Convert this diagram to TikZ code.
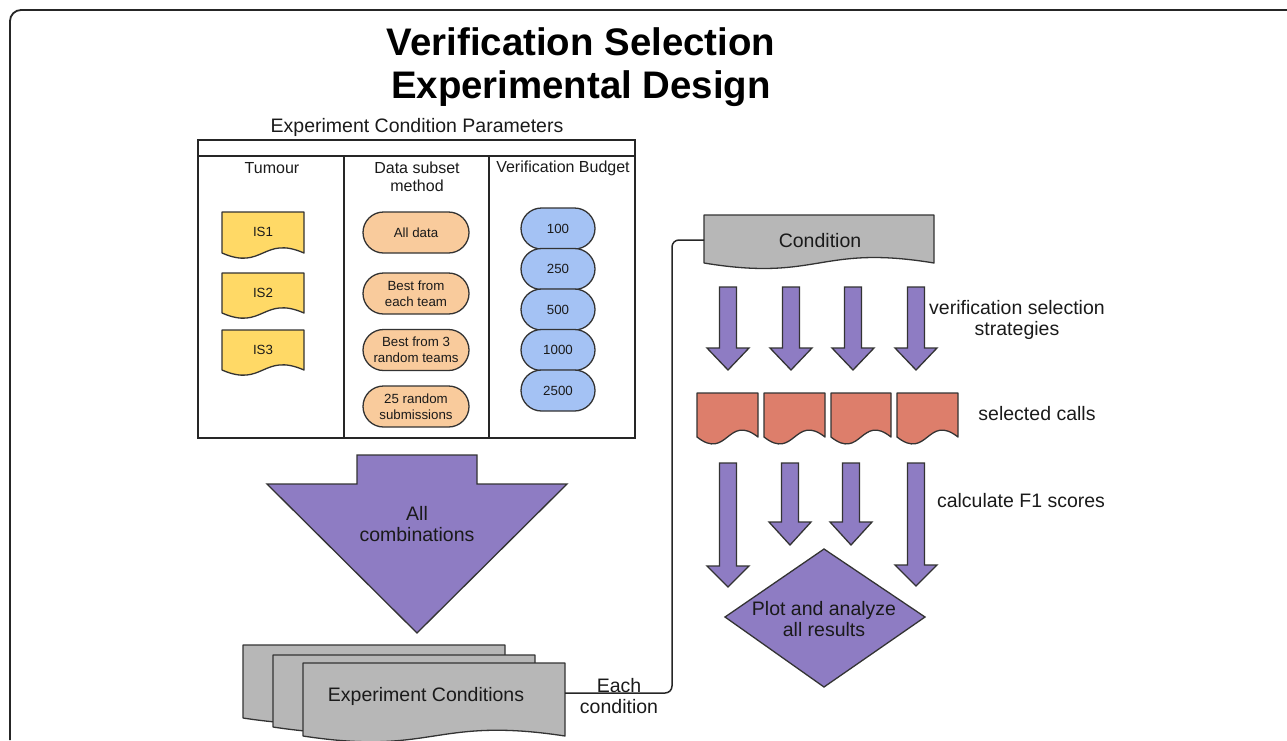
\documentclass[tikz,border=0pt]{standalone}
\usepackage{fontspec}
\setmainfont{Liberation Sans}
\definecolor{ylw}{HTML}{FFD966}
\definecolor{org}{HTML}{F9CB9C}
\definecolor{blu}{HTML}{A4C2F4}
\definecolor{redc}{HTML}{DD7E6B}
\definecolor{pur}{HTML}{8E7CC3}
\definecolor{gry}{HTML}{B7B7B7}
\definecolor{edgec}{HTML}{333333}
\definecolor{txtc}{HTML}{1A1A1A}
% fill, x1, ytop, x2, yedge, wave control
\newcommand\docshape[6]{\filldraw[docst,fill=#1] (#2,#3) -- (#4,#3) -- (#4,#5) .. controls ({0.5*(#2+#4)},{#5-#6}) and ({0.5*(#2+#4)},{#5+#6}) .. (#2,#5) -- cycle;}
% cx, top, shoulder, tip, shaft half width, head half width
\newcommand\blockarrow[6]{\filldraw[arrst] ({#1-#5},#2) -- ({#1+#5},#2) -- ({#1+#5},#3) -- ({#1+#6},#3) -- (#1,#4) -- ({#1-#6},#3) -- ({#1-#5},#3) -- cycle;}
\begin{document}
\begin{tikzpicture}[x=1pt,y=-1pt,
  docst/.style={draw=edgec,line width=1.3pt,line join=round},
  arrst/.style={draw=edgec,fill=pur,line width=1.3pt,line join=miter},
  big/.style={font=\fontsize{19.5}{21.5}\selectfont,text=txtc,align=center,inner sep=0pt},
  mid/.style={font=\fontsize{16}{18}\selectfont,text=txtc,align=center,inner sep=0pt},
  small/.style={font=\fontsize{13.3}{16}\selectfont,text=txtc,align=center,inner sep=0pt},
  pill/.style={draw=edgec,line width=1.3pt,rounded corners=20.5pt,minimum height=41pt,inner sep=0pt,small},
  opill/.style={pill,fill=org,minimum width=106pt},
  bpill/.style={pill,fill=blu,minimum width=74pt},
  tbl/.style={draw=black!85,line width=1.4pt}]
\useasboundingbox (0,0) rectangle (1287,740);
% outer frame
\draw[line width=1.8pt,black!85,rounded corners=11pt] (1287,10) -- (10,10) -- (10,740);
% title
\node[font=\bfseries\fontsize{38.4}{43}\selectfont,align=center,inner sep=0pt] (title) at (581,67) {Verification Selection\\Experimental Design};
% table
\node[big] (ecp) at (417,127) {Experiment Condition Parameters};
\draw[tbl] (198,140) rectangle (635,438);
\draw[tbl] (198,156) -- (635,156);
\draw[tbl] (344,156) -- (344,438);
\draw[tbl] (489,156) -- (489,438);
\node[mid] (htum) at (272,168) {Tumour};
\node[mid] (hdat) at (417,177) {Data subset\\method};
\node[mid] (hver) at (563,168) {Verification Budget};
% tumour docs
\docshape{ylw}{222}{212}{304}{253}{18}
\node[small] (is1) at (263,232) {IS1};
\docshape{ylw}{222}{273}{304}{313}{18}
\node[small] (is2) at (263,293) {IS2};
\docshape{ylw}{222}{330}{304}{370}{18}
\node[small] (is3) at (263,350) {IS3};
% data subset pills
\node[opill] (all) at (416,232.5) {All data};
\node[opill] (best) at (416,293.5) {Best from\\each team};
\node[opill] (best3) at (416,350) {Best from 3\\random teams};
\node[opill] (r25) at (416,406.5) {25 random\\submissions};
% budget pills
\node[bpill] (b100) at (558,228.5) {100};
\node[bpill] (b250) at (558,269) {250};
\node[bpill] (b500) at (558,309.5) {500};
\node[bpill] (b1000) at (558,350) {1000};
\node[bpill] (b2500) at (558,390.5) {2500};
% big arrow
\blockarrow{417}{455}{484}{633}{60}{150}
\node[big] (allc) at (417,524) {All\\combinations};
% experiment conditions stack
\docshape{gry}{243}{645}{505}{718}{20}
\docshape{gry}{273}{655}{535}{727}{20}
\docshape{gry}{303}{663}{565}{736}{20}
\node[big] (expc) at (426,696) {Experiment Conditions};
\coordinate (ecR) at (565,693);
% condition
\docshape{gry}{704}{215}{934}{263}{19}
\node[big] (cond) at (820,241) {Condition};
\coordinate (condL) at (704,240);
\coordinate (turn) at (672,0);
\draw[line width=1.5pt,black!85,rounded corners=7pt] (ecR) -- (ecR -| turn) -- (condL -| turn) -- (condL);
\node[big,anchor=base] (each) at (619,692) {Each};
\node[big,anchor=base] (eachc) at (619,713) {condition};
% first arrows
\blockarrow{728}{287}{348}{370}{8.5}{21}
\blockarrow{791}{287}{348}{370}{8.5}{21}
\blockarrow{853}{287}{348}{370}{8.5}{21}
\blockarrow{916}{287}{348}{370}{8.5}{21}
\node[big] (vss) at (1017,320) {verification selection\\strategies};
% selected calls
\docshape{redc}{697}{393}{758}{437}{24}
\docshape{redc}{764}{393}{825}{437}{24}
\docshape{redc}{831}{393}{891}{437}{24}
\docshape{redc}{897}{393}{958}{437}{24}
\node[big] (sel) at (1037,414) {selected calls};
% second arrows
\blockarrow{728}{463}{566}{587}{8.5}{21}
\blockarrow{790}{463}{522}{545}{8.5}{21}
\blockarrow{851}{463}{522}{545}{8.5}{21}
\blockarrow{916}{463}{565}{586}{8.5}{21}
\node[big] (f1) at (1021,501) {calculate F1 scores};
% diamond
\filldraw[arrst] (824,549) -- (925,617) -- (824,687) -- (725,617) -- cycle;
\node[big] (plot) at (824,619) {Plot and analyze\\all results};
\end{tikzpicture}
\end{document}
